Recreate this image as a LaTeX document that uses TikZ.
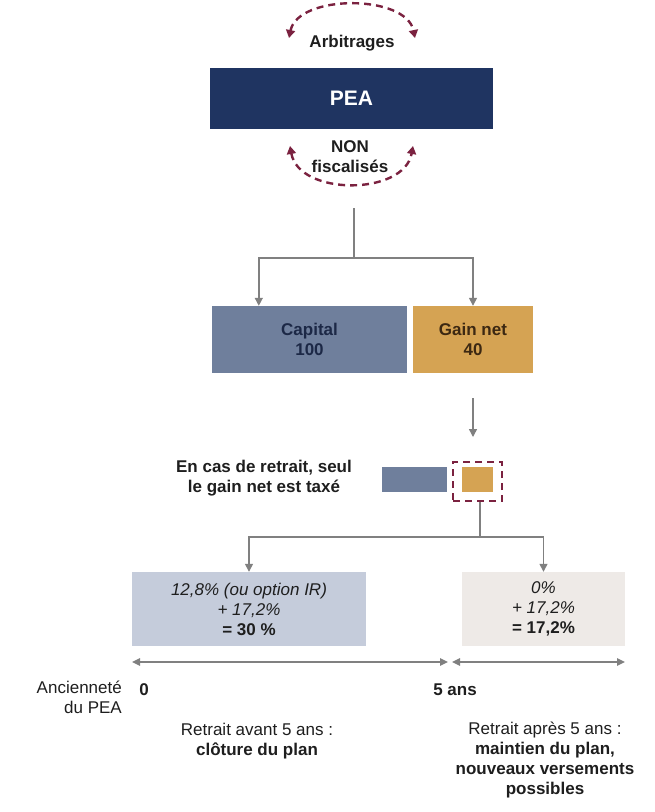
\documentclass[tikz,border=0pt]{standalone}
\usepackage{fontspec}
\setmainfont{Liberation Sans}
\usetikzlibrary{arrows.meta}
\definecolor{peanavy}{RGB}{31,52,97}
\definecolor{maroon}{RGB}{123,34,64}
\definecolor{capblue}{RGB}{111,127,156}
\definecolor{gaingold}{RGB}{213,163,83}
\definecolor{lightblue}{RGB}{197,204,219}
\definecolor{lightbeige}{RGB}{238,234,231}
\definecolor{captext}{RGB}{28,40,70}
\definecolor{gaintext}{RGB}{60,40,18}
\definecolor{conngray}{RGB}{128,128,128}
\definecolor{txtdark}{RGB}{30,30,30}
\tikzset{
  txt/.style={font=\fontsize{17}{20}\selectfont, align=center, inner sep=0pt, text=txtdark},
  btxt/.style={txt, font=\fontsize{17}{20}\selectfont\bfseries},
  boxn/.style={draw=none, inner sep=0pt, align=center, font=\fontsize{17}{20}\selectfont},
  conn/.style={draw=conngray, line width=1.4pt, -{Triangle[length=8pt,width=8pt]}},
  plainconn/.style={draw=conngray, line width=1.4pt},
  dblconn/.style={draw=conngray, line width=1.4pt, {Triangle[length=8pt,width=7.5pt]}-{Triangle[length=8pt,width=7.5pt]}},
  arcarrow/.style={draw=maroon, line width=2.4pt, dash pattern=on 7pt off 5pt, {Triangle[length=8pt,width=9pt]}-{Triangle[length=8pt,width=9pt]}},
}
\begin{document}
\begin{tikzpicture}[x=1pt, y=-1pt]
\useasboundingbox (0,0) rectangle (655,812);

% PEA block
\node[boxn, fill=peanavy, minimum width=283pt, minimum height=61pt, text=white, font=\fontsize{21}{24}\selectfont\bfseries] (pea) at (351.5,98.5) {PEA};
\node[btxt] (arb) at (352,43) {Arbitrages};
\node[btxt] (nonf) at (350,157) {NON\\fiscalisés};
\draw[arcarrow] (289,38) .. controls (298,-6) and (406,-6) .. (415,38);
\draw[arcarrow] (290,146) .. controls (299,196) and (404,196) .. (413,146);

% Split
\coordinate (src) at (354,208);
\coordinate (j1) at (354,258);
\node[boxn, fill=capblue, minimum width=195pt, minimum height=67pt, text=captext, font=\fontsize{17}{20}\selectfont\bfseries] (cap) at (309.5,339.5) {Capital\\100};
\node[boxn, fill=gaingold, minimum width=120pt, minimum height=67pt, text=gaintext, font=\fontsize{17}{20}\selectfont\bfseries] (gain) at (473,339.5) {Gain net\\40};
\draw[plainconn] (src) -- (j1);
\draw[conn] (j1) -| ([xshift=47pt]cap.north west);
\draw[conn] (j1) -| (gain.north);

% Arrow down
\coordinate (a1) at (473,398);
\coordinate (a2) at (473,437);
\draw[conn] (a1) -- (a2);

% Explanation
\node[btxt] (expl) at (264,478) {En cas de retrait, seul\\le gain net est taxé};
\node[boxn, fill=capblue, minimum width=65pt, minimum height=25pt] (sb) at (414.5,479.5) {};
\node[boxn, fill=gaingold, minimum width=31pt, minimum height=25pt] (sg) at (477.5,479.5) {};
\node[draw=maroon, line width=2.4pt, dash pattern=on 7pt off 5pt, minimum width=49pt, minimum height=39pt, inner sep=0pt] (dr) at (477.5,481.5) {};

% Second split
\coordinate (j2) at (480,537);
\node[boxn, fill=lightblue, minimum width=234pt, minimum height=74pt, text=txtdark] (lb) at (249,609) {\itshape 12,8\% (ou option IR)\\\itshape + 17,2\%\\\bfseries = 30 \%};
\node[boxn, fill=lightbeige, minimum width=163pt, minimum height=74pt, text=txtdark] (rb) at (543.5,609) {\itshape 0\%\\\itshape + 17,2\%\\\bfseries = 17,2\%};
\draw[plainconn] ([xshift=2.5pt]dr.south) -- (j2);
\draw[conn] (j2) -| (lb.north);
\draw[conn] (j2) -| (rb.north);

% Timeline
\coordinate (t0) at (132,662);
\coordinate (t5a) at (448,662);
\coordinate (t5b) at (452,662);
\coordinate (t9) at (625,662);
\draw[dblconn] (t0) -- (t5a);
\draw[dblconn] (t5b) -- (t9);

\node[txt, anchor=east, align=right] (anc) at (122,697) {Ancienneté\\du PEA};
\node[btxt, anchor=base] (zero) at (144,695) {0};
\node[btxt, anchor=base] (cinq) at (455,695) {5 ans};
\node[txt] (avant) at (257,741) {Retrait avant 5 ans :\\\textbf{clôture du plan}};
\node[txt] (apres) at (545,760) {Retrait après 5 ans :\\\textbf{maintien du plan,}\\\textbf{nouveaux versements}\\\textbf{possibles}};
\end{tikzpicture}
\end{document}
